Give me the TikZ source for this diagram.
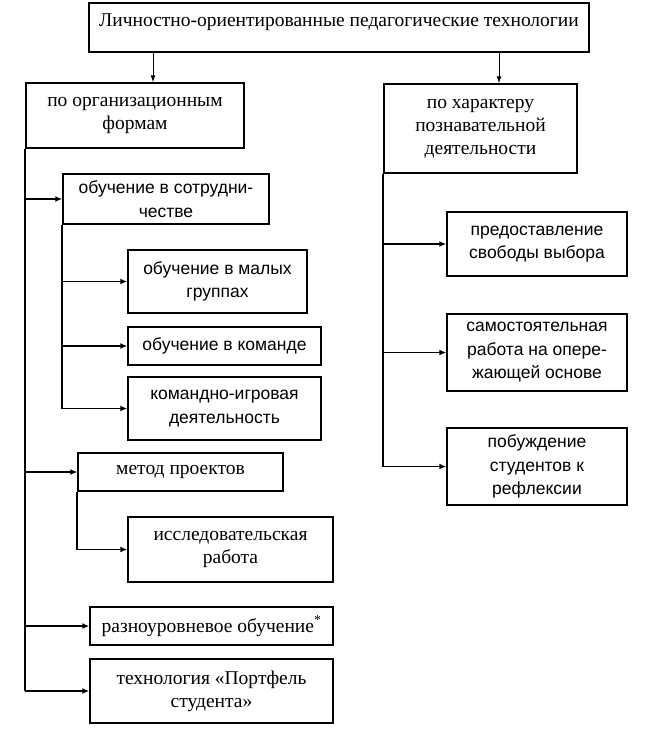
\documentclass[tikz,border=0pt]{standalone}
\usepackage{fontspec}
\setmainfont{Liberation Serif}
\setsansfont{Liberation Sans}
\usetikzlibrary{arrows.meta}
\begin{document}
\begin{tikzpicture}[x=1pt,y=-1pt,
  box/.style={draw,line width=1.4pt,inner sep=0pt,align=center,font=\fontsize{19.5}{23}\selectfont},
  sbox/.style={box,font=\sffamily\fontsize{17.5}{23.5}\selectfont},
  arr/.style={line width=1.8pt,-{Latex[length=7pt,width=6pt]}},
  tarr/.style={line width=1pt,-{Latex[length=7pt,width=5pt]}},
  trunk/.style={line width=1.8pt}]
\useasboundingbox (0,0) rectangle (647,741);
% main boxes
\node[box,minimum width=500pt,minimum height=49pt] (top) at (339,27.5)
  {Личностно-ориентированные педагогические технологии\\[-8pt] \mbox{}};
\node[box,minimum width=218pt,minimum height=65pt] (L) at (135,115.5)
  {по организационным\\формам};
\node[box,minimum width=193pt,minimum height=89pt] (R) at (480.5,128.5)
  {по характеру\\познавательной\\деятельности};
% left branch
\node[sbox,minimum width=206pt,minimum height=50pt] (A1) at (166,199)
  {обучение в сотрудни-\\честве};
\node[sbox,minimum width=179pt,minimum height=63pt] (A2) at (217.5,281.5)
  {обучение в малых\\группах};
\node[sbox,minimum width=193pt,minimum height=38pt] (A3) at (224.5,346)
  {обучение в команде};
\node[sbox,minimum width=193pt,minimum height=63pt] (A4) at (224.5,408.5)
  {командно-игровая\\деятельность};
\node[box,minimum width=205pt,minimum height=38pt] (B1) at (180.5,472)
  {метод проектов};
\node[box,minimum width=205pt,minimum height=65pt] (B2) at (230.5,549.5)
  {исследовательская\\работа};
\node[box,minimum width=243pt,minimum height=38pt] (C) at (211.5,626)
  {разноуровневое обучение\textsuperscript{*}};
\node[box,minimum width=243pt,minimum height=64pt] (D) at (211.5,691)
  {технология «Портфель\\студента»};
% right branch
\node[sbox,minimum width=180pt,minimum height=64pt] (R1) at (537,244)
  {предоставление\\свободы выбора};
\node[sbox,minimum width=180pt,minimum height=77pt] (R2) at (537,352.5)
  {самостоятельная\\работа на опере-\\жающей основе};
\node[sbox,minimum width=180pt,minimum height=77pt] (R3) at (537,466.5)
  {побуждение\\студентов к\\рефлексии};
% top arrows
\draw[tarr] ([xshift=18pt]L.north |- top.south) -- ([xshift=18pt]L.north);
\draw[tarr] ([xshift=18.5pt]R.north |- top.south) -- ([xshift=18.5pt]R.north);
% left trunk
\draw[trunk] (L.south west) -- (L.south west |- D.west);
\draw[arr] (L.south west |- A1.west) -- (A1.west);
\draw[arr] (L.south west |- B1.west) -- (B1.west);
\draw[arr] (L.south west |- C.west) -- (C.west);
\draw[arr] (L.south west |- D.west) -- (D.west);
% sub trunk A
\draw[trunk] (A1.south west) -- (A1.south west |- A4.west);
\draw[arr] (A1.south west |- A2.west) -- (A2.west);
\draw[arr] (A1.south west |- A3.west) -- (A3.west);
\draw[arr] (A1.south west |- A4.west) -- (A4.west);
% sub trunk B
\draw[trunk] (B1.south west) -- (B1.south west |- B2.west);
\draw[arr] (B1.south west |- B2.west) -- (B2.west);
% right trunk
\draw[trunk] (R.south west) -- (R.south west |- R3.west);
\draw[arr] (R.south west |- R1.west) -- (R1.west);
\draw[arr] (R.south west |- R2.west) -- (R2.west);
\draw[arr] (R.south west |- R3.west) -- (R3.west);
\end{tikzpicture}
\end{document}
